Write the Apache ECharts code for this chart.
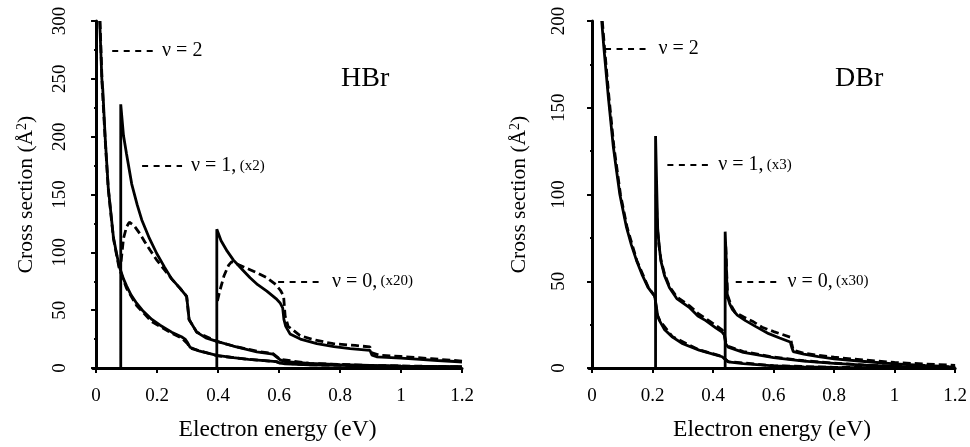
<!DOCTYPE html>
<html>
<head>
<meta charset="utf-8">
<title>HBr / DBr cross sections</title>
<script src="https://cdn.jsdelivr.net/npm/echarts@6.0.0/dist/echarts.min.js"></script>
<style>
  html, body { margin: 0; padding: 0; background: #fff; }
  #chart { width: 970px; height: 447px; }
</style>
</head>
<body>
<div id="chart"></div>
<script>
// tick labels
var xTicks = [0, 0.2, 0.4, 0.6, 0.8, 1, 1.2];
var xMinorTicks = [0.1, 0.3, 0.5, 0.7, 0.9, 1.1];

// HBr panel, [energy eV, cross section A^2]
var hbrV2Solid = [[0.012,300],[0.019,250],[0.022,241],[0.03,199],[0.04,156],[0.057,113],[0.068,98],[0.076,88],[0.09,77],[0.1,71],[0.115,63],[0.133,56],[0.155,49],[0.183,42],[0.21,37],[0.248,31],[0.28,27],[0.292,25],[0.3,22],[0.308,18],[0.34,14.5],[0.396,11],[0.45,9],[0.5,7.5],[0.592,5.5],[0.6,4.5],[0.62,3.5],[0.7,2.8],[0.8,2.2],[0.9,1.8],[1.0,1.4],[1.1,1.1],[1.2,0.9]];
var hbrV2Dashed = [[0.013,300],[0.02,245],[0.03,197],[0.04,155],[0.057,112],[0.076,86],[0.1,69],[0.133,54],[0.183,40],[0.248,30],[0.28,26],[0.3,21],[0.31,17],[0.4,10.5],[0.5,7.5],[0.59,5.5],[0.6,4.5],[0.7,2.8],[0.9,1.8],[1.2,0.9]];
var hbrV1Solid = [[0.081,0],[0.081,228],[0.09,201],[0.1,185],[0.117,159],[0.135,141],[0.15,128],[0.175,112],[0.199,99],[0.225,87],[0.248,77],[0.275,69],[0.297,62],[0.3,55],[0.305,42],[0.33,31],[0.36,26],[0.396,23],[0.45,19],[0.527,14],[0.58,12],[0.604,7],[0.62,5.5],[0.7,4],[0.8,3],[0.9,2.2],[1.0,1.6],[1.2,1]];
var hbrV1Dashed = [[0.082,92],[0.09,112],[0.1,122],[0.109,126],[0.125,123],[0.144,116],[0.16,109],[0.177,102],[0.2,93],[0.215,88],[0.248,77],[0.275,69],[0.297,62],[0.3,55],[0.305,42],[0.33,31],[0.396,23],[0.45,19],[0.527,14.5],[0.58,12.5],[0.604,7.5],[0.7,4],[0.9,2.2],[1.2,1]];
var hbrV0Solid = [[0.396,0],[0.396,120],[0.41,110],[0.43,101],[0.45,93.5],[0.48,85],[0.505,78],[0.53,72],[0.56,66.5],[0.59,60],[0.603,56.5],[0.612,52],[0.616,42],[0.622,36],[0.636,29.5],[0.67,25],[0.724,21],[0.78,18.5],[0.833,16.8],[0.898,15.3],[0.905,11],[0.92,9.7],[1.0,8.5],[1.05,7.7],[1.12,6.5],[1.19,5.4],[1.2,5.2]];
var hbrV0Dashed = [[0.398,58],[0.405,66],[0.42,80],[0.435,89],[0.445,92],[0.47,89],[0.505,85],[0.53,82],[0.56,78],[0.59,72],[0.605,67],[0.615,62],[0.62,45],[0.63,36],[0.669,28],[0.72,24],[0.778,21],[0.85,19.5],[0.898,18.2],[0.905,13],[0.93,11],[1.0,10],[1.1,8],[1.2,6]];

// DBr panel
var dbrV2Solid = [[0.032,200],[0.039,185],[0.054,156],[0.07,128],[0.08,115],[0.092,100],[0.1,93],[0.114,81],[0.13,71],[0.147,62],[0.165,54],[0.185,46.5],[0.2,43],[0.207,41.5],[0.212,36],[0.217,30],[0.223,27.3],[0.24,22],[0.266,17.8],[0.3,14],[0.354,10.3],[0.4,8],[0.43,6.5],[0.44,5],[0.45,3.5],[0.5,2.5],[0.6,1.2],[0.7,0.7],[0.8,0.4],[1.0,0.2],[1.2,0.1]];
var dbrV2Dashed = [[0.034,200],[0.041,185],[0.056,156],[0.072,128],[0.094,100],[0.116,81],[0.148,62],[0.186,46.5],[0.207,41.5],[0.215,31],[0.225,27],[0.266,18],[0.354,10.5],[0.43,6.7],[0.45,3.7],[0.6,1.3],[0.8,0.4],[1.2,0.1]];
var dbrV1Solid = [[0.21,0],[0.21,133.7],[0.213,110],[0.217,80.5],[0.222,70],[0.228,61.5],[0.24,53],[0.256,46.3],[0.28,40],[0.321,35],[0.35,30],[0.376,27.3],[0.41,23],[0.43,20.7],[0.437,19],[0.442,14],[0.45,12],[0.5,9],[0.6,6],[0.7,4],[0.8,2.7],[0.9,1.6],[1.0,0.9],[1.1,0.5],[1.2,0.3]];
var dbrV1Dashed = [[0.212,100],[0.216,80],[0.222,70],[0.228,62],[0.24,54],[0.256,47],[0.28,41],[0.321,36],[0.35,31.5],[0.376,28.5],[0.41,24.5],[0.43,22],[0.437,20],[0.442,15],[0.45,12.5],[0.5,9.5],[0.6,6.3],[0.7,4.2],[0.8,2.8],[0.9,1.7],[1.0,1],[1.2,0.3]];
var dbrV0Solid = [[0.44,0],[0.44,78.6],[0.443,65],[0.445,52],[0.447,41.6],[0.455,37],[0.463,34],[0.48,30.5],[0.507,27.3],[0.54,24],[0.584,19.8],[0.62,17.3],[0.655,15],[0.66,12],[0.665,9.5],[0.7,8],[0.748,6.5],[0.8,5.3],[0.911,3.6],[1.0,2.4],[1.1,1.5],[1.18,0.8],[1.2,0.7]];
var dbrV0Dashed = [[0.442,70],[0.445,55],[0.448,42],[0.46,36],[0.473,32],[0.5,29.5],[0.53,27],[0.562,23.5],[0.6,21],[0.655,17.8],[0.66,14],[0.665,10.3],[0.7,8.5],[0.75,7.3],[0.8,6.2],[0.9,4.6],[1.0,3.2],[1.1,2.3],[1.18,1.7],[1.2,1.5]];

// leader lines for the labels: [x1, x2, y, text, scale]
var hbrNotes = [[0.053, 0.187, 274, "ν = 2", ""], [0.151, 0.282, 175, "ν = 1,", "(x2)"], [0.597, 0.744, 75, "ν = 0,", "(x20)"]];
var dbrNotes = [[0.043, 0.19, 184, "ν = 2", ""], [0.249, 0.387, 117, "ν = 1,", "(x3)"], [0.475, 0.616, 50, "ν = 0,", "(x30)"]];

var serif = "'Liberation Serif', 'Times New Roman', serif";

function xAxes(grid) {
    return [{
        type: "value", gridIndex: grid, position: "bottom",
        min: -0.01, max: 1.2,
        axisLine: { lineStyle: { color: "#000", width: 3 } },
        axisTick: { show: true, length: 5, customValues: xTicks, lineStyle: { color: "#000", width: 2 } },
        axisLabel: { customValues: xTicks, margin: 19, fontSize: 19, fontFamily: serif, color: "#000" },
        splitLine: { show: false },
        name: "Electron energy (eV)", nameLocation: "middle", nameGap: 50,
        nameTextStyle: { fontSize: 23.5, fontFamily: serif, color: "#000" }
    }, {
        type: "value", gridIndex: grid, position: "bottom",
        min: -0.01, max: 1.2,
        axisLine: { show: false },
        axisTick: { show: true, length: 2, customValues: xMinorTicks, lineStyle: { color: "#000", width: 2 } },
        axisLabel: { show: false },
        splitLine: { show: false }
    }];
}

function yAxis(grid, max, margin, gap) {
    return {
        type: "value", gridIndex: grid,
        min: 0, max: max, interval: 50,
        axisLine: { show: true, lineStyle: { color: "#000", width: 3 } },
        axisTick: { show: true, length: 5, lineStyle: { color: "#000", width: 2 } },
        minorTick: { show: true, splitNumber: 2, length: 2, lineStyle: { color: "#000", width: 2 } },
        axisLabel: { rotate: 90, margin: margin, fontSize: 19, fontFamily: serif, color: "#000" },
        splitLine: { show: false },
        name: "{a|Cross section (Å}{s|2}{a|)}", nameLocation: "middle", nameGap: gap,
        nameTextStyle: {
            color: "#000",
            rich: {
                a: { fontSize: 21.5, fontFamily: serif, color: "#000" },
                s: { fontSize: 14, fontFamily: serif, color: "#000", verticalAlign: "top", padding: [0, 0, 8, 0] }
            }
        }
    };
}

function curve(data, xi, yi, dashed, notes) {
    var s = {
        type: "line", data: data, xAxisIndex: xi, yAxisIndex: yi,
        showSymbol: false, symbol: "none", silent: true,
        lineStyle: { color: "#000", width: 2.8, type: dashed ? [8, 4] : "solid" }
    };
    if (notes) {
        s.markLine = {
            silent: true, symbol: "none", animation: false,
            lineStyle: { color: "#000", width: 2, type: [6, 5.5] },
            label: {
                show: true, position: "end", distance: 9, color: "#000",
                formatter: function (p) { return p.data.text; },
                rich: {
                    a: { fontSize: 20, fontFamily: serif, color: "#000" },
                    b: { fontSize: 15, fontFamily: serif, color: "#000" }
                }
            },
            data: notes.map(function (n) {
                var t = "{a|" + n[3] + "}" + (n[4] ? " {b|" + n[4] + "}" : "");
                return [{ coord: [n[0], n[2]], text: t }, { coord: [n[1], n[2]] }];
            })
        };
    }
    return s;
}

var chart = echarts.init(document.getElementById("chart"), null, { renderer: "canvas" });
chart.setOption({
    animation: false,
    backgroundColor: "#fff",
    grid: [
        { left: 93, top: 21, width: 369, height: 352 },
        { left: 589, top: 21, width: 369, height: 352 }
    ],
    xAxis: xAxes(0).concat(xAxes(1)),
    yAxis: [yAxis(0, 300, 23, 56), yAxis(1, 200, 20, 59)],
    graphic: [
        { type: "text", left: 341, top: 65, style: { text: "HBr", font: "28px " + serif, fill: "#000" } },
        { type: "text", left: 835, top: 65, style: { text: "DBr", font: "28px " + serif, fill: "#000" } }
    ],
    series: [
        curve(hbrV2Solid, 0, 0, false, hbrNotes),
        curve(hbrV2Dashed, 0, 0, true),
        curve(hbrV1Solid, 0, 0, false),
        curve(hbrV1Dashed, 0, 0, true),
        curve(hbrV0Solid, 0, 0, false),
        curve(hbrV0Dashed, 0, 0, true),
        curve(dbrV2Solid, 2, 1, false, dbrNotes),
        curve(dbrV2Dashed, 2, 1, true),
        curve(dbrV1Solid, 2, 1, false),
        curve(dbrV1Dashed, 2, 1, true),
        curve(dbrV0Solid, 2, 1, false),
        curve(dbrV0Dashed, 2, 1, true)
    ]
});
</script>
</body>
</html>
